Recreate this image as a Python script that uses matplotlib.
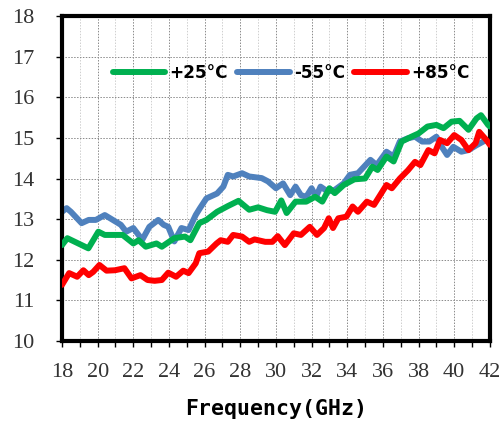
import numpy as np
import matplotlib
matplotlib.use("Agg")
import matplotlib.pyplot as plt
from matplotlib.ticker import MultipleLocator

plt.rcParams["font.family"] = "Liberation Serif"

# courbes (GHz, dB)
f_25 = [18.0, 18.3, 19.48, 20.04, 20.4, 21.0, 21.4, 22.0, 22.3, 22.7, 23.3, 23.6, 24.3, 24.9,
        25.2, 25.7, 26.1, 26.7, 27.3, 27.9, 28.5, 29.0, 29.5, 29.95, 30.3, 30.6, 31.1, 31.7,
        32.2, 32.6, 33.0, 33.3, 33.8, 34.4, 35.0, 35.4, 35.7, 36.2, 36.6, 37.05, 37.6, 38.0,
        38.5, 39.0, 39.4, 39.85, 40.3, 40.8, 41.25, 41.5, 41.9, 42.0]
g_25 = [12.36, 12.53, 12.28, 12.69, 12.61, 12.61, 12.61, 12.40, 12.48, 12.32, 12.40, 12.32, 12.53, 12.57,
        12.48, 12.90, 12.98, 13.18, 13.32, 13.45, 13.23, 13.29, 13.22, 13.18, 13.46, 13.15, 13.43, 13.43,
        13.55, 13.43, 13.76, 13.64, 13.84, 13.98, 14.00, 14.29, 14.21, 14.54, 14.42, 14.91, 15.03, 15.11,
        15.28, 15.32, 15.24, 15.40, 15.42, 15.20, 15.48, 15.56, 15.32, 15.28]

f_m55 = [18.0, 18.26, 18.5, 19.1, 19.5, 19.9, 20.4, 21.0, 21.3, 21.6, 22.0, 22.5, 22.9, 23.4, 23.7,
         23.96, 24.3, 24.7, 25.1, 25.5, 25.74, 26.1, 26.7, 27.05, 27.3, 27.6, 28.1, 28.5, 29.2, 29.55,
         30.0, 30.4, 30.8, 31.1, 31.4, 31.7, 32.0, 32.25, 32.5, 32.9, 33.3, 33.8, 34.15, 34.6, 35.3,
         35.65, 36.2, 36.6, 36.95, 37.4, 37.8, 38.2, 38.6, 39.0, 39.3, 39.6, 39.95, 40.4, 40.8, 41.25,
         41.8, 42.0]
g_m55 = [13.18, 13.27, 13.18, 12.90, 12.98, 12.98, 13.10, 12.94, 12.86, 12.69, 12.78, 12.49, 12.81, 12.98, 12.86,
         12.81, 12.45, 12.78, 12.73, 13.10, 13.27, 13.51, 13.63, 13.80, 14.09, 14.05, 14.13, 14.05, 14.01, 13.93,
         13.76, 13.88, 13.59, 13.80, 13.59, 13.55, 13.76, 13.55, 13.80, 13.68, 13.72, 13.88, 14.09, 14.13, 14.46,
         14.33, 14.66, 14.54, 14.91, 14.99, 15.03, 14.91, 14.91, 15.03, 14.78, 14.58, 14.78, 14.66, 14.70, 14.82,
         14.95, 14.95]

f_85 = [18.0, 18.4, 18.85, 19.2, 19.5, 19.75, 20.1, 20.5, 20.97, 21.5, 21.9, 22.4, 22.8, 23.2, 23.6,
        23.96, 24.4, 24.8, 25.1, 25.5, 25.7, 26.2, 26.67, 26.9, 27.3, 27.6, 28.1, 28.5, 28.8, 29.4,
        29.8, 30.1, 30.5, 31.0, 31.4, 31.9, 32.3, 32.7, 32.96, 33.2, 33.5, 33.95, 34.3, 34.6, 35.1,
        35.5, 36.2, 36.5, 36.95, 37.4, 37.8, 38.1, 38.55, 38.9, 39.2, 39.6, 40.0, 40.4, 40.8, 41.2,
        41.4, 41.8, 42.0]
g_85 = [11.38, 11.67, 11.58, 11.74, 11.62, 11.70, 11.87, 11.73, 11.74, 11.79, 11.54, 11.62, 11.50, 11.48, 11.50,
        11.68, 11.58, 11.73, 11.67, 11.91, 12.16, 12.20, 12.40, 12.48, 12.44, 12.61, 12.57, 12.44, 12.50, 12.44,
        12.44, 12.58, 12.36, 12.65, 12.61, 12.81, 12.61, 12.78, 13.02, 12.78, 13.02, 13.06, 13.31, 13.18, 13.43,
        13.35, 13.84, 13.76, 14.00, 14.20, 14.41, 14.33, 14.70, 14.62, 14.95, 14.87, 15.07, 14.95, 14.70, 14.87,
        15.15, 14.95, 14.83]

x_ticks = np.arange(18, 43, 2)
y_ticks = np.arange(10, 19, 1)

fig = plt.figure(figsize=(5.04, 4.24), dpi=100)
ax = fig.add_axes([0.123, 0.196, 0.849, 0.766])

lw = 4.3
ax.plot(f_25, g_25, color="#00B050", lw=lw, label="+25°C", solid_joinstyle="round", solid_capstyle="round", zorder=3)
ax.plot(f_m55, g_m55, color="#4F81BD", lw=lw, label="-55°C", solid_joinstyle="round", solid_capstyle="round", zorder=2)
ax.plot(f_85, g_85, color="#FF0000", lw=lw, label="+85°C", solid_joinstyle="round", solid_capstyle="round", zorder=3)

ax.set_xlim(18, 42)
ax.set_ylim(10, 18)
ax.set_xticks(x_ticks)
ax.set_yticks(y_ticks)
ax.xaxis.set_minor_locator(MultipleLocator(1))

# grille
ax.grid(True, which="major", axis="both", color="#8a8a8a", ls=(0, (1.5, 1.5)), lw=0.7)
ax.grid(True, which="minor", axis="x", color="#cfcfcf", ls=(0, (1.5, 1.5)), lw=0.7)
ax.set_axisbelow(True)

for s in ax.spines.values():
    s.set_linewidth(3)
    s.set_color("black")

ax.tick_params(which="both", direction="out", length=4, width=1, color="black",
               labelsize=16, labelcolor="#333333")
ax.tick_params(axis="x", which="major", pad=12)
ax.tick_params(axis="y", which="major", pad=16)

ax.set_xlabel("Frequency(GHz)", fontsize=15.5, fontweight="bold", family="DejaVu Sans Mono", labelpad=12)

leg = ax.legend(loc="center", bbox_to_anchor=(0.535, 0.825), ncol=3, frameon=False,
                handlelength=3.1, handletextpad=0.25, columnspacing=0.55,
                prop={"family": "DejaVu Sans", "weight": "bold", "size": 12.2})

fig.savefig("out.png", dpi=100)
